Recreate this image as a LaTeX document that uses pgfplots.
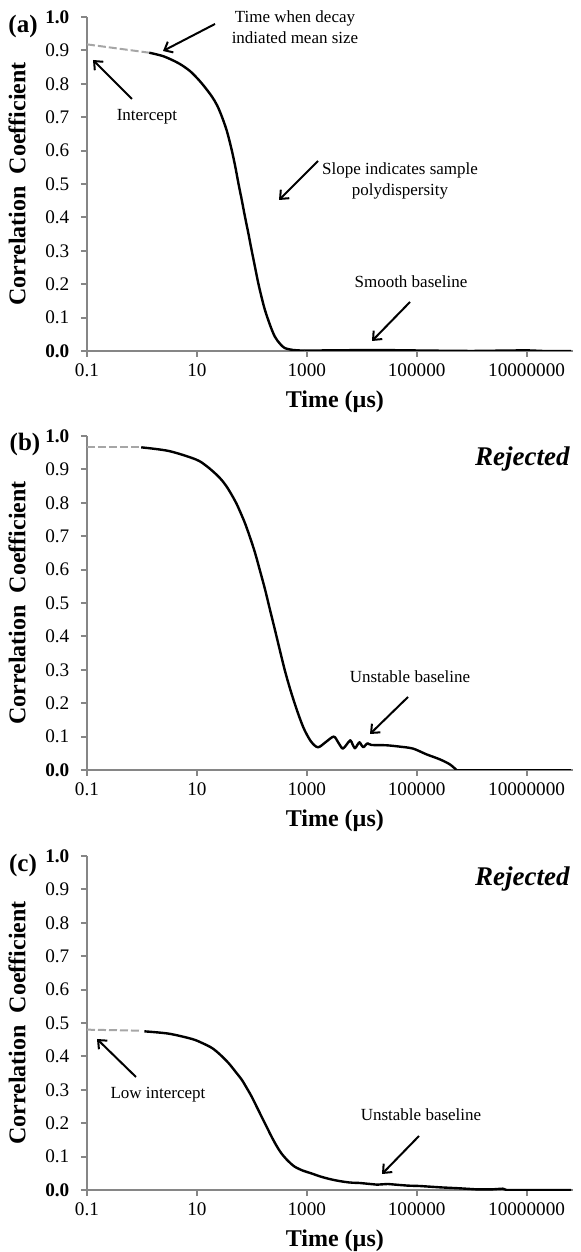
\documentclass[border=0pt]{standalone}
\usepackage{fontspec}
\setmainfont{Liberation Serif}
\usepackage{pgfplots}
\pgfplotsset{compat=1.18}
\usetikzlibrary{arrows.meta}

\definecolor{axgray}{RGB}{134,134,134}
\definecolor{dashgray}{RGB}{166,166,166}

\pgfplotsset{every axis/.append style={
  scale only axis, width=243pt, height=167pt,
  xmode=log, xmin=0.1, xmax=7e7, ymin=0, ymax=1,
  axis x line=bottom, axis y line=left,
  axis line style={-, axgray, line width=1pt},
  xtick={0.1,10,1000,100000,10000000},
  xticklabels={0.1,10,1000,100000,10000000},
  ytick={0,0.1,0.2,0.3,0.4,0.5,0.6,0.7,0.8,0.9,1.0},
  yticklabels={\textbf{0.0},0.1,0.2,0.3,0.4,0.5,0.6,0.7,0.8,0.9,\textbf{1.0}},
  xminorticks=false, yminorticks=false,
  tick align=outside, major tick length=3pt,
  tick style={axgray, line width=1pt},
  ticklabel style={font=\fontsize{9.6}{10}\selectfont},
  yticklabel style={xshift=-2.3pt},
  xlabel={Time (µs)},
  xlabel style={font=\bfseries\fontsize{12}{14}\selectfont,
    at={(axis description cs:0.51,-0.153)}, anchor=center},
  ylabel={Correlation\ \ Coefficient},
  ylabel style={font=\bfseries\fontsize{12}{14}\selectfont,
    at={(axis description cs:-0.144,0.5)}, anchor=center},
}}
\tikzset{
  dlcurve/.style={black, line width=1.2pt, smooth, tension=0.5, line join=round},
  dlbase/.style={black, line width=1.2pt, line join=round},
  dlext/.style={dashgray, line width=1pt, dash pattern=on 4pt off 1.5pt},
  dlarr/.style={black, line width=1pt, -{Straight Barb[length=3.5pt,width=6pt]}},
  dlann/.style={font=\fontsize{8.5}{10.5}\selectfont, align=center, inner sep=0pt},
  dlrej/.style={font=\bfseries\itshape\fontsize{13.5}{15}\selectfont, inner sep=0pt, anchor=east},
  dlplab/.style={font=\bfseries\fontsize{12.5}{14}\selectfont, inner sep=0pt, anchor=center},
}

\begin{document}
\begin{tikzpicture}

% (a) good measurement
\begin{axis}[at={(43.5pt,450.5pt)}, anchor=south west]
\addplot[dlext] coordinates {(0.1,0.918) (1.36,0.893)};
\addplot[dlcurve] coordinates {
(1.36,0.893) (2.5,0.882) (4.7,0.861) (7.5,0.838) (10.9,0.811) (14.1,0.789)
(18.9,0.761) (23.4,0.735) (28.6,0.701) (35.2,0.658) (43,0.602) (49.8,0.553)
(57,0.502) (65.6,0.452) (75,0.402) (86.5,0.352) (99,0.302) (114,0.252)
(131,0.203) (151,0.160) (173,0.123) (214,0.078) (262,0.043) (324,0.022)
(396,0.009) (562,0.003) (908,0.001)};
\addplot[dlbase] coordinates {
(908,0.001) (3000,0.002) (20000,0.003) (60000,0.002) (200000,0.001)
(1000000,0.0) (10000000,0.002) (20000000,0.0) (65000000,0.0)};
\end{axis}

% (b) rejected, unstable baseline
\begin{axis}[at={(43.5pt,241pt)}, anchor=south west]
\addplot[dlext] coordinates {(0.1,0.966) (0.97,0.966)};
\addplot[dlcurve] coordinates {
(0.97,0.966) (3.1,0.955) (9.5,0.930) (15,0.910) (24.9,0.878) (35,0.848)
(49.8,0.805) (61,0.774) (75,0.739) (92,0.698) (114,0.651) (140,0.598)
(173,0.542) (213,0.481) (262,0.421) (322,0.360) (396,0.300) (488,0.247)
(600,0.200) (738,0.157) (908,0.120) (1197,0.085) (1600,0.068) (2230,0.084)
(3100,0.100) (3750,0.082) (4500,0.064) (5300,0.076) (6200,0.089) (6800,0.077)
(7500,0.065) (8250,0.074) (9100,0.083) (9850,0.075) (10700,0.068) (11650,0.074)
(12700,0.080) (15000,0.075) (28000,0.074) (49000,0.070) (86000,0.064)
(150000,0.047) (263000,0.032) (400000,0.017) (530000,0.0)};
\addplot[dlbase] coordinates {(530000,0.0) (65000000,0.0)};
\end{axis}

% (c) rejected, low intercept
\begin{axis}[at={(43.5pt,31pt)}, anchor=south west]
\addplot[dlext] coordinates {(0.1,0.480) (0.97,0.477)};
\addplot[dlcurve] coordinates {
(1.11,0.475) (3.1,0.468) (8.2,0.452) (12.5,0.440) (18.9,0.425) (26.6,0.405)
(37.7,0.380) (50,0.355) (65.6,0.330) (81,0.305) (99,0.280) (122,0.250)
(150,0.220) (185,0.190) (228,0.160) (280,0.133) (344,0.110) (450,0.088)
(600,0.070) (850,0.058) (1200,0.050) (1800,0.040) (2740,0.032) (4200,0.026)
(6300,0.022)};
\addplot[dlbase] coordinates {
(6300,0.022) (9200,0.021) (19000,0.016) (30000,0.018) (49000,0.015)
(70000,0.013) (113000,0.012) (263000,0.008) (610000,0.005) (1200000,0.002)
(2400000,0.002) (3700000,0.004) (4300000,0.0) (65000000,0.0)};
\end{axis}

% annotations, in pixel units of the reference
\begin{scope}[x=0.5pt, y=-0.5pt, shift={(0,626pt)}]
\node[dlplab] at (23,27) {(a)};
\node[dlplab] at (25,445) {(b)};
\node[dlplab] at (23,865) {(c)};

\node[dlann] at (295,27.5) {Time when decay\\indiated mean size};
\draw[dlarr] (215,24) -- (163,51);
\node[dlann] at (147,117) {Intercept};
\draw[dlarr] (132,99) -- (93,60);
\node[dlann] at (400,180.5) {Slope indicates sample\\polydispersity};
\draw[dlarr] (318,161) -- (279,200);
\node[dlann] at (411,282) {Smooth baseline};
\draw[dlarr] (410,302) -- (372,341);

\node[dlrej] at (570,459) {Rejected};
\node[dlann] at (410,677) {Unstable baseline};
\draw[dlarr] (408,697) -- (370,734);

\node[dlrej] at (570,879) {Rejected};
\node[dlann] at (158,1095) {Low intercept};
\draw[dlarr] (136,1077) -- (97,1039);
\node[dlann] at (421,1115) {Unstable baseline};
\draw[dlarr] (419,1136) -- (382,1174);
\end{scope}

\pgfresetboundingbox
\useasboundingbox (0,0) rectangle (290pt,626pt);
\end{tikzpicture}
\end{document}
